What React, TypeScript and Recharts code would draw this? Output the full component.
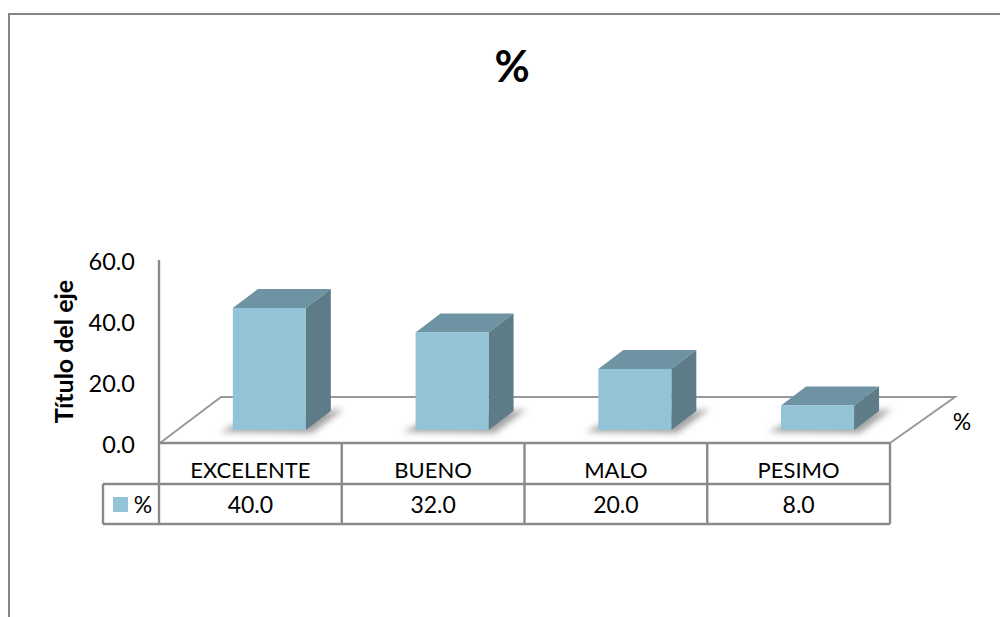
import React from 'react';
import { BarChart, Bar, XAxis, YAxis, usePlotArea } from 'recharts';

const CATEGORIES = ['EXCELENTE', 'BUENO', 'MALO', 'PESIMO'];
const VALUES = [40.0, 32.0, 20.0, 8.0];
const Y_TICKS = [0, 20, 40, 60];
const SERIES_NAME = '%';
const CHART_TITLE = '%';
const AXIS_TITLE = 'Título del eje';

const data = CATEGORIES.map((name, i) => ({ name, value: VALUES[i] }));

const FONT = 'Lato, "Open Sans", sans-serif';
const GRID = '#8a8a8a';
const FRONT = '#93c3d6';
const TOP = '#6e93a3';
const SIDE = '#5d7c88';
const DEPTH_X = 25;
const DEPTH_Y = 19;
const LIFT = 13; // floor inset of the 3D perspective
const SHIFT = 19;

const Bar3D = (props: any) => {
  const { x, y, width, height } = props;
  const l = x + SHIFT;
  const r = l + width;
  const t = y - LIFT;
  const b = t + height;
  return (
    <g>
      <polygon
        points={`${l - 13},${b + 2} ${l + 8},${b - 8} ${r + DEPTH_X + 13},${b - DEPTH_Y - 2} ${r + 6},${b + 3}`}
        fill="#8c8c8c"
        fillOpacity={0.8}
        filter="url(#shadowBlur)"
      />
      <polygon points={`${l},${t} ${l + DEPTH_X},${t - DEPTH_Y} ${r + DEPTH_X},${t - DEPTH_Y} ${r},${t}`} fill={TOP} />
      <polygon points={`${r},${t} ${r + DEPTH_X},${t - DEPTH_Y} ${r + DEPTH_X},${b - DEPTH_Y} ${r},${b}`} fill={SIDE} />
      <rect x={l} y={t} width={width} height={height} fill={FRONT} />
    </g>
  );
};

const Floor = () => {
  const plot = usePlotArea();
  if (!plot) return null;
  const { x, y, width, height } = plot;
  const bottom = y + height;
  const right = x + width;
  return (
    <g>
      <defs>
        <filter id="shadowBlur" x="-30%" y="-60%" width="160%" height="220%">
          <feGaussianBlur stdDeviation="3" />
        </filter>
      </defs>
      <polyline
        points={`${x + 1},${bottom} ${x + 62},${bottom - 46} ${right + 65},${bottom - 46} ${right},${bottom}`}
        fill="none"
        stroke="#999"
        strokeWidth={2}
      />
    </g>
  );
};

const Chrome = () => {
  const plot = usePlotArea();
  if (!plot) return null;
  const { x, y, width, height } = plot;
  const bottom = y + height;
  const right = x + width;
  const row1 = bottom + 41;
  const row2 = row1 + 40;
  const legendLeft = x - 56;
  const lines: number[] = CATEGORIES.map((_, i) => x + (width * i) / CATEGORIES.length);
  return (
    <g>
      <text x={512} y={65} textAnchor="middle" dominantBaseline="central" fontFamily={FONT} fontSize={43} fontWeight={700} fill="#000">
        {CHART_TITLE}
      </text>
      <text x={962} y={421} textAnchor="middle" dominantBaseline="central" fontFamily={FONT} fontSize={23} fill="#000">
        {SERIES_NAME}
      </text>
      <g stroke={GRID} strokeWidth={2.4} fill="none">
        {lines.map((lx, i) => (
          <line key={i} x1={lx} x2={lx} y1={bottom} y2={row2} />
        ))}
        <line x1={right} x2={right} y1={bottom} y2={row2} />
        <line x1={legendLeft} x2={right} y1={row1} y2={row1} />
        <line x1={legendLeft} x2={right} y1={row2} y2={row2} />
        <line x1={legendLeft} x2={legendLeft} y1={row1} y2={row2} />
      </g>
      <rect x={x - 46} y={row1 + 13} width={15} height={15} fill={FRONT} />
      <text x={x - 16} y={row1 + 20} textAnchor="middle" dominantBaseline="central" fontFamily={FONT} fontSize={23} fill="#000">
        {SERIES_NAME}
      </text>
    </g>
  );
};

const TableTick = (props: any) => {
  const { x, y, payload, index } = props;
  return (
    <g fontFamily={FONT} fontSize={22} fill="#000" textAnchor="middle">
      <text x={x} y={y + 26} dominantBaseline="central">{payload.value}</text>
      <text x={x} y={y + 61} fontSize={23} dominantBaseline="central">{VALUES[index].toFixed(1)}</text>
    </g>
  );
};

export default function App() {
  return (
    <div style={{ position: 'absolute', left: 0, top: 0, width: 1000, height: 617, background: '#fff', overflow: 'hidden' }}>
      <div style={{ position: 'absolute', left: 8, top: 13, width: 992, height: 604, borderLeft: '2px solid #868686', borderTop: '2px solid #868686', boxSizing: 'border-box' }} />
      <div style={{ position: 'absolute', left: 0, top: 0 }}>
        <BarChart
          width={1000}
          height={617}
          data={data}
          barCategoryGap="30%"
          margin={{ top: 260, right: 110, bottom: 93, left: 49 }}
        >
          <Floor />
          <XAxis
            dataKey="name"
            interval={0}
            height={81}
            tickSize={0}
            tickMargin={0}
            axisLine={{ stroke: GRID, strokeWidth: 2.4 }}
            tick={<TableTick />}
          />
          <YAxis
            domain={[0, 60]}
            ticks={Y_TICKS}
            width={110}
            tickLine={false}
            tickSize={0}
            tickMargin={24}
            axisLine={{ stroke: GRID, strokeWidth: 2.4 }}
            tickFormatter={(v: number) => v.toFixed(1)}
            tick={{ fill: '#000', fontSize: 23.5, fontFamily: FONT, dy: 2 }}
            label={{
              value: AXIS_TITLE,
              angle: -90,
              position: 'insideLeft',
              offset: 15,
              style: { textAnchor: 'middle', fontFamily: FONT, fontSize: 25, fontWeight: 700, fill: '#000' },
            }}
          />
          <Bar dataKey="value" isAnimationActive={false} shape={<Bar3D />} />
          <Chrome />
        </BarChart>
      </div>
    </div>
  );
}
